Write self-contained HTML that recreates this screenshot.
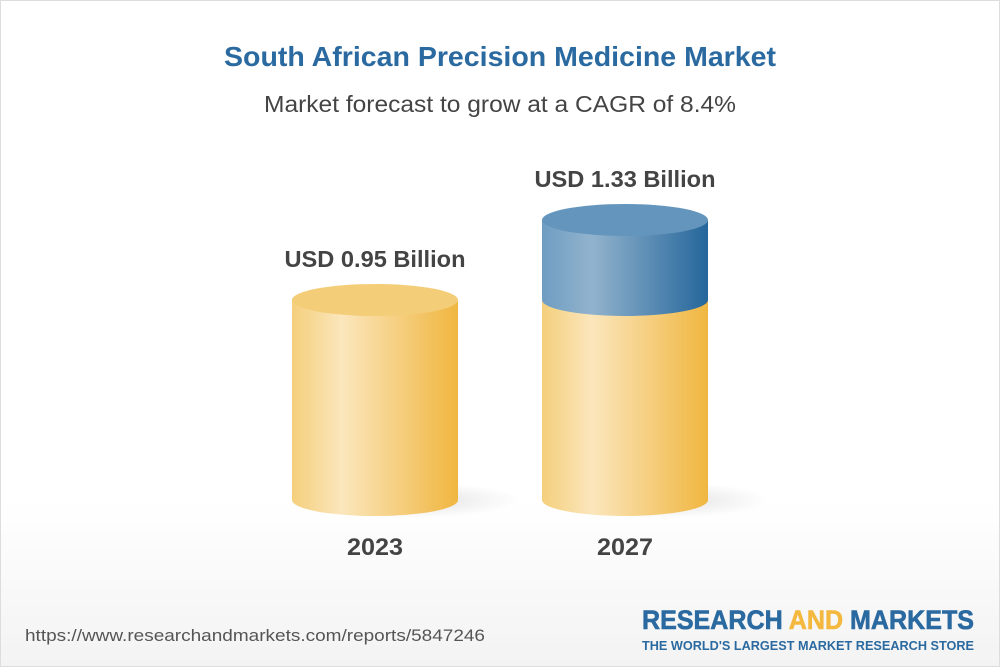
<!DOCTYPE html>
<html><head><meta charset="utf-8"><style>
html,body{margin:0;padding:0}
body{width:1000px;height:667px;overflow:hidden;font-family:"Liberation Sans",sans-serif;position:relative;background:linear-gradient(#fff 0,#fff 500px,#f3f3f3 667px)}
.frame{position:absolute;left:0;top:0;width:998px;height:665px;border:1px solid #ddd}
</style></head><body>
<div class="frame"></div>
<svg width="1000" height="667" style="position:absolute;left:0;top:0" font-family="Liberation Sans">
<defs>
<linearGradient id="y" x1="0" x2="1"><stop offset="0" stop-color="#f4cf7c"/><stop offset=".3" stop-color="#fbe6bc"/><stop offset="1" stop-color="#f0b640"/></linearGradient>
<linearGradient id="b" x1="0" x2="1"><stop offset="0" stop-color="#6e9dc2"/><stop offset=".3" stop-color="#92b3cd"/><stop offset="1" stop-color="#25669b"/></linearGradient>
<radialGradient id="sh"><stop offset="0" stop-color="#000" stop-opacity=".12"/><stop offset="1" stop-color="#000" stop-opacity="0"/></radialGradient>
</defs>
<text x="500" y="66" text-anchor="middle" font-size="28" font-weight="bold" fill="#2a6aa0" textLength="552" lengthAdjust="spacingAndGlyphs">South African Precision Medicine Market</text>
<text x="500" y="112" text-anchor="middle" font-size="23" fill="#444" textLength="472" lengthAdjust="spacingAndGlyphs">Market forecast to grow at a CAGR of 8.4%</text>
<ellipse cx="410" cy="500" rx="110" ry="18" fill="url(#sh)"/>
<ellipse cx="660" cy="500" rx="110" ry="18" fill="url(#sh)"/>
<path d="M292 300 V500 A83 16 0 0 0 458 500 V300 Z" fill="url(#y)"/>
<ellipse cx="375" cy="300" rx="83" ry="16" fill="#f4cd78"/>
<path d="M542 300 V500 A83 16 0 0 0 708 500 V300 Z" fill="url(#y)"/>
<path d="M542 220 V300 A83 16 0 0 0 708 300 V220 Z" fill="url(#b)"/>
<ellipse cx="625" cy="220" rx="83" ry="16" fill="#6496bd"/>
<text x="375" y="267" text-anchor="middle" font-size="23" font-weight="bold" fill="#444" textLength="181" lengthAdjust="spacingAndGlyphs">USD 0.95 Billion</text>
<text x="625" y="187" text-anchor="middle" font-size="23" font-weight="bold" fill="#444" textLength="181" lengthAdjust="spacingAndGlyphs">USD 1.33 Billion</text>
<text x="375" y="555" text-anchor="middle" font-size="24" font-weight="bold" fill="#444" textLength="56" lengthAdjust="spacingAndGlyphs">2023</text>
<text x="625" y="555" text-anchor="middle" font-size="24" font-weight="bold" fill="#444" textLength="56" lengthAdjust="spacingAndGlyphs">2027</text>
<text x="25" y="641" font-size="17" fill="#555" textLength="460" lengthAdjust="spacingAndGlyphs">https://www.researchandmarkets.com/reports/5847246</text>
<text x="974" y="629" text-anchor="end" font-size="27" font-weight="bold" fill="#2a6aa0" textLength="332" lengthAdjust="spacingAndGlyphs" stroke="#2a6aa0" stroke-width="0.6">RESEARCH <tspan fill="#f3b83d" stroke="#f3b83d">AND</tspan> MARKETS</text>
<text x="974" y="650" text-anchor="end" font-size="13" font-weight="bold" fill="#2a6aa0" textLength="332" lengthAdjust="spacingAndGlyphs">THE WORLD'S LARGEST MARKET RESEARCH STORE</text>
</svg>
</body></html>
